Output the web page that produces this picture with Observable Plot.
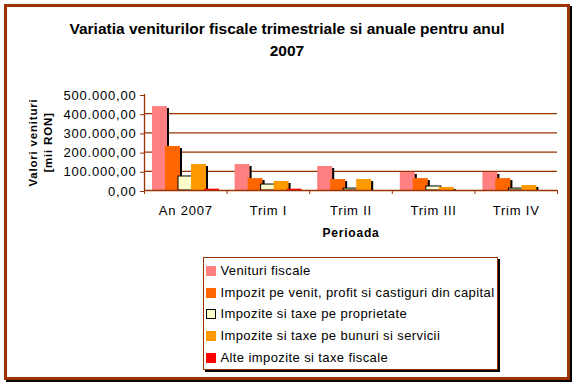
<!DOCTYPE html>
<html>
<head>
<meta charset="utf-8">
<script src="https://cdn.jsdelivr.net/npm/d3@7"></script>
<script src="https://cdn.jsdelivr.net/npm/@observablehq/plot@0.6"></script>
<style>
  body { margin: 0; background: #fff; }
  #wrap { position: relative; width: 576px; height: 385px; overflow: hidden; font-family: "Liberation Sans", Arial, sans-serif; }
  #shadow { position: absolute; left: 6px; top: 6px; width: 566px; height: 376px; background: #000; }
  #frame { position: absolute; left: 4px; top: 4px; width: 566px; height: 376px; border: 3px solid #993300; box-sizing: border-box; background: #fff; }
  #title { position: absolute; left: 4px; width: 566px; top: 18px; text-align: center; font-weight: bold; font-size: 15.5px; line-height: 21.5px; color: #000; }
  #chart { position: absolute; left: 0; top: 0; }
  #legend { position: absolute; left: 203px; top: 257px; width: 295px; height: 113px; box-sizing: border-box; border: 1.5px solid #993300; background: #fff; box-shadow: 2px 2px 0 #000; font-size: 13px; letter-spacing: 0.4px; color: #000; }
  .row { position: absolute; left: 1.5px; height: 20px; display: flex; align-items: center; white-space: nowrap; }
  .sw { width: 10px; height: 10px; box-sizing: border-box; margin-right: 5px; flex: none; }
</style>
</head>
<body>
<div id="wrap">
  <div id="shadow"></div>
  <div id="frame"></div>
  <div id="title"></div>
  <div id="chart"></div>
  <div id="legend"></div>
</div>
<script>
// ---- data (values in mii RON) ----
const titleLines = ["Variatia veniturilor fiscale trimestriale si anuale pentru anul", "2007"];
const periods = ["An 2007", "Trim I", "Trim II", "Trim III", "Trim IV"];
const seriesNames = [
  "Venituri fiscale",
  "Impozit pe venit, profit si castiguri din capital",
  "Impozite si taxe pe proprietate",
  "Impozite si taxe pe bunuri si servicii",
  "Alte impozite si taxe fiscale"
];
const venituriFiscale   = [437000, 135000, 125000, 94000, 94000];
const impozitVenit      = [229000,  62000,  57000, 62000, 62000];
const impozitProprietate= [ 73000,  31000,  10000, 21000, 10000];
const impozitBunuri     = [135000,  47000,  57000, 16000, 26000];
const alteImpozite      = [  7000,   7000,      0,     0,     0];
const yTicks = [0, 100000, 200000, 300000, 400000, 500000];
const yLabel = "Valori venituri\n[mii RON]";
const xLabel = "Perioada";
const seriesColors = ["#FF8080", "#FF6600", "#FFFFCC", "#FF9900", "#FF0000"];

// ---- build table ----
const seriesValues = [venituriFiscale, impozitVenit, impozitProprietate, impozitBunuri, alteImpozite];
const rows = [];
periods.forEach((p, gi) => seriesNames.forEach((s, si) => rows.push({period: p, gi, si, series: s, value: seriesValues[si][gi]})));

const W = 576, H = 250, mL = 144, mR = 19, mT = 94, mB = 60;
const band = (W - mL - mR) / periods.length;           // px per category
const off = si => (8 + 13 * si) / band;                  // bar offset inside category
const bw = 15 / band;                                    // bar width in category units
const x1 = d => d.gi + off(d.si);
const x2 = d => d.gi + off(d.si) + bw;

const brown = "#993300";
const fmt = d3.formatLocale({decimal: ",", thousands: ".", grouping: [3], currency: ["", ""]}).format(",.2f");

const fills = seriesNames.map((s, si) =>
  Plot.rectY(rows.filter(d => d.si === si && d.value > 0), {
    x1, x2, y1: 0, y2: "value",
    fill: seriesColors[si],
    stroke: si === 2 ? "black" : "none",
    strokeWidth: 1
  })
);

const chart = Plot.plot({
  width: W, height: H,
  marginLeft: mL, marginRight: mR, marginTop: mT, marginBottom: mB,
  style: "background: transparent; letter-spacing: 0.8px; font-family: 'Liberation Sans', Arial, sans-serif; color: black;",
  x: {domain: [0, periods.length], label: null},
  y: {domain: [0, 500000], label: null},
  marks: [
    Plot.ruleY(yTicks.filter(v => v > 0 && v < 500000), {stroke: brown, strokeWidth: 1.3}),
    Plot.rectY(rows.filter(d => d.value > 0), {x1, x2, y1: 0, y2: "value", fill: "black", dx: 2, insetTop: 2}),
    ...fills,
    Plot.ruleY([0], {stroke: brown, strokeWidth: 1.3}),
    Plot.ruleX([0], {y1: 0, y2: 500000, stroke: brown, strokeWidth: 1.3}),
    Plot.axisY({ticks: yTicks, tickFormat: fmt, tickSize: 4, tickPadding: 4, stroke: brown, fill: "black", fontSize: 13, dy: 1, label: null}),
    Plot.axisX({ticks: d3.range(periods.length + 1), tickSize: 4, tickFormat: () => "", stroke: brown, label: null}),
    Plot.axisX({ticks: periods.map((p, i) => i + 0.5), tickFormat: v => periods[Math.floor(v)], tickSize: 0, tickPadding: 15, fill: "black", fontSize: 13, label: null}),
    Plot.text([yLabel], {text: d => d, frameAnchor: "left", rotate: -90, dx: -105, textAnchor: "middle", lineAnchor: "middle", fontWeight: "bold", fontSize: 11.5, lineHeight: 1.3, fill: "black"}),
    Plot.text([xLabel], {text: d => d, frameAnchor: "bottom", dy: 42.5, lineAnchor: "middle", fontWeight: "bold", fontSize: 12, fill: "black"})
  ]
});
document.getElementById("chart").appendChild(chart);

// ---- title ----
document.getElementById("title").innerHTML = titleLines.join("<br>");

// ---- legend ----
const legend = document.getElementById("legend");
const rowCenters = [14, 36, 57, 79, 101];
seriesNames.forEach((s, si) => {
  const r = document.createElement("div");
  r.className = "row";
  r.style.top = (rowCenters[si] - 10 - 1.5) + "px";
  const sw = document.createElement("span");
  sw.className = "sw";
  sw.style.background = seriesColors[si];
  if (si === 2) sw.style.border = "1px solid #000";
  const t = document.createElement("span");
  t.textContent = s;
  r.appendChild(sw); r.appendChild(t);
  legend.appendChild(r);
});
</script>
</body>
</html>
